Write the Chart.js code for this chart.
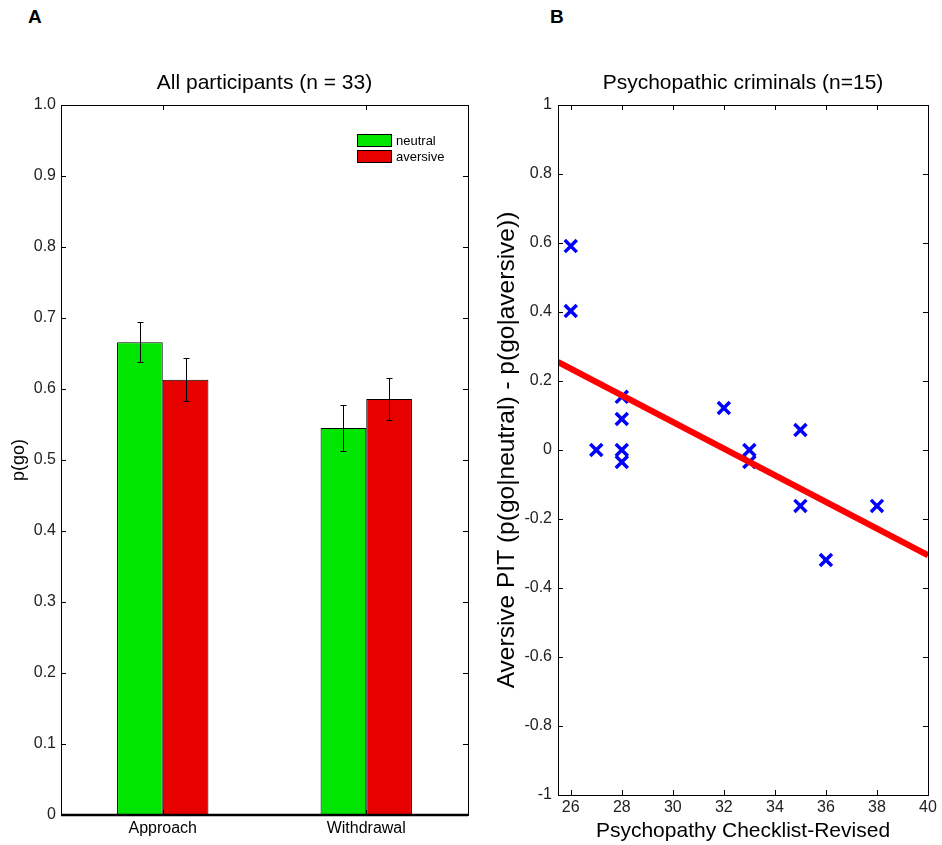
<!DOCTYPE html>
<html>
<head>
<meta charset="utf-8">
<title>p(go) and aversive PIT</title>
<script src="https://cdn.jsdelivr.net/npm/chart.js@4/dist/chart.umd.min.js"></script>
<style>
  html, body { margin:0; padding:0; background:#fff; }
  body { width:942px; height:845px; position:relative; overflow:hidden; font-family:"Liberation Sans", Arial, sans-serif; }
  canvas { position:absolute; top:0; }
  #cA { left:0; }
  #cB { left:480px; }
  .tag { position:absolute; top:6px; font-weight:bold; font-size:19px; color:#000; }
  #legendA { position:absolute; left:357px; top:132px; font-size:13px; color:#000; }
  #legendA .row { display:flex; align-items:center; height:16px; }
  #legendA .sw { width:33px; height:11px; border:1px solid #000; margin-right:4px; }
</style>
</head>
<body>
<div class="tag" style="left:28px">A</div>
<div class="tag" style="left:550px">B</div>
<canvas id="cA" width="480" height="845"></canvas>
<canvas id="cB" width="462" height="845"></canvas>
<div id="legendA"></div>

<script>
/* ---------- panel A: mean p(go) per block, +/- SEM ---------- */
const GROUPS       = ["Approach", "Withdrawal"];
const NEUTRAL      = [0.666, 0.545];
const NEUTRAL_ERR  = [0.028, 0.032];
const AVERSIVE     = [0.613, 0.586];
const AVERSIVE_ERR = [0.030, 0.030];
const SERIES_A     = ["neutral", "aversive"];

/* ---------- panel B: PCL-R score vs aversive PIT ---------- */
const PCLR = [26, 26, 27, 28, 28, 28, 28, 32, 33, 33, 35, 35, 36, 38];
const PIT  = [0.591, 0.403, 0.0, 0.154, 0.090, 0.0, -0.035, 0.122, 0.0, -0.035, 0.058, -0.162, -0.319, -0.162];
const FIT_X = [25.5, 40];
const FIT_Y = [0.255, -0.305];
const X_TICKS_B = [26, 28, 30, 32, 34, 36, 38, 40];

const GREEN = "#00e600", RED = "#e60000", BLUE = "#0000ff";
const FONT = '"Liberation Sans", Arial, sans-serif';

Chart.defaults.font.family = FONT;
Chart.defaults.color = "#222";

// MATLAB-style box: frame round the plot area, ticks pointing inwards on every side
const frameTicks = {
  id: "frameTicks",
  afterDatasetsDraw(chart, args, opts) {
    const { ctx, chartArea: a, scales } = chart;
    const L = opts.len || 5;
    ctx.save();
    ctx.strokeStyle = "#000";
    ctx.lineWidth = 1;
    ctx.strokeRect(Math.round(a.left) + 0.5, Math.round(a.top) + 0.5, Math.round(a.width), Math.round(a.height));
    ctx.beginPath();
    scales.y.ticks.forEach(t => {
      const py = Math.round(scales.y.getPixelForValue(t.value)) + 0.5;
      ctx.moveTo(a.left, py); ctx.lineTo(a.left + L, py);
      ctx.moveTo(a.right, py); ctx.lineTo(a.right - L, py);
    });
    scales.x.ticks.forEach((t, i) => {
      const px = Math.round(scales.x.getPixelForTick(i)) + 0.5;
      ctx.moveTo(px, a.top); ctx.lineTo(px, a.top + L);
      ctx.moveTo(px, a.bottom); ctx.lineTo(px, a.bottom - L);
    });
    ctx.stroke();
    if (opts.bottomWidth) {
      ctx.lineWidth = opts.bottomWidth;
      ctx.beginPath();
      ctx.moveTo(a.left, a.bottom); ctx.lineTo(a.right, a.bottom);
      ctx.stroke();
    }
    ctx.restore();
  }
};

// axes title centred over the plot box rather than the whole canvas
const areaTitle = {
  id: "areaTitle",
  afterDraw(chart, args, opts) {
    const { ctx, chartArea: a } = chart;
    ctx.save();
    ctx.font = `${opts.size}px ${FONT}`;
    ctx.fillStyle = "#000";
    ctx.textAlign = "center";
    ctx.textBaseline = "middle";
    ctx.fillText(opts.text, (a.left + a.right) / 2, a.top - opts.offset);
    ctx.restore();
  }
};

// vertical error bars with short caps, centred on each bar
const ERRORS = [NEUTRAL_ERR, AVERSIVE_ERR];
const errorBars = {
  id: "errorBars",
  afterDatasetsDraw(chart) {
    const { ctx, scales: { y } } = chart;
    ctx.save();
    ctx.strokeStyle = "#000";
    ctx.lineWidth = 1;
    chart.data.datasets.forEach((ds, i) => {
      chart.getDatasetMeta(i).data.forEach((bar, j) => {
        const v = ds.data[j], e = ERRORS[i][j];
        const x = Math.round(bar.x) + 0.5;
        const y1 = Math.round(y.getPixelForValue(v + e)) + 0.5;
        const y2 = Math.round(y.getPixelForValue(v - e)) + 0.5;
        ctx.beginPath();
        ctx.moveTo(x, y1); ctx.lineTo(x, y2);
        ctx.moveTo(x - 3, y1); ctx.lineTo(x + 3, y1);
        ctx.moveTo(x - 3, y2); ctx.lineTo(x + 3, y2);
        ctx.stroke();
      });
    });
    ctx.restore();
  }
};

const tickFont = { size: 16 };
const titleFont = { size: 21, weight: "normal" };

new Chart(document.getElementById("cA"), {
  type: "bar",
  data: {
    labels: GROUPS,
    datasets: [
      { label: SERIES_A[0], data: NEUTRAL,  backgroundColor: GREEN, borderColor: "#000", borderWidth: 1, categoryPercentage: 0.449, barPercentage: 1 },
      { label: SERIES_A[1], data: AVERSIVE, backgroundColor: RED,   borderColor: "#000", borderWidth: 1, categoryPercentage: 0.449, barPercentage: 1 }
    ]
  },
  options: {
    responsive: false, animation: false,
    layout: { padding: { top: 105, right: 12, left: 0, bottom: 0 } },
    plugins: {
      legend: { display: false }, tooltip: { enabled: false },
      areaTitle: { text: "All participants (n = 33)", size: 21, offset: 22 },
      frameTicks: { len: 5, bottomWidth: 2.5 }
    },
    scales: {
      x: {
        grid: { display: false, drawTicks: false }, border: { display: false },
        ticks: { color: "#000", font: { size: 16 }, padding: 4 },
        afterFit: s => { s.height = 30; }
      },
      y: {
        min: 0, max: 1,
        grid: { display: false, drawTicks: false }, border: { display: false },
        ticks: { stepSize: 0.1, font: tickFont, padding: 5, callback: v => v === 0 ? "0" : v.toFixed(1) },
        title: { display: true, text: "p(go)", color: "#000", font: { size: 18, weight: "normal" }, padding: { top: 8, bottom: 0 } },
        afterFit: s => { s.width = 61; }
      }
    }
  },
  plugins: [frameTicks, errorBars, areaTitle]
});

// legend for panel A, built from the same series names and colours
document.getElementById("legendA").innerHTML = SERIES_A.map((name, i) =>
  `<div class="row"><div class="sw" style="background:${[GREEN, RED][i]}"></div>${name}</div>`).join("");

new Chart(document.getElementById("cB"), {
  type: "scatter",
  data: {
    datasets: [
      { type: "line", data: FIT_X.map((x, i) => ({ x, y: FIT_Y[i] })), borderColor: "#ff0000", borderWidth: 6, pointRadius: 0, order: 1 },
      { data: PCLR.map((x, i) => ({ x, y: PIT[i] })), pointStyle: "crossRot", radius: 8.5, borderWidth: 3.5, borderColor: BLUE, backgroundColor: BLUE, order: 2 }
    ]
  },
  options: {
    responsive: false, animation: false,
    layout: { padding: { top: 105, right: 14, left: 0, bottom: 0 } },
    plugins: {
      legend: { display: false }, tooltip: { enabled: false },
      areaTitle: { text: "Psychopathic criminals (n=15)", size: 21, offset: 22 },
      frameTicks: { len: 5 }
    },
    scales: {
      x: {
        type: "linear", min: 25.5, max: 40,
        afterBuildTicks: s => { s.ticks = X_TICKS_B.map(v => ({ value: v })); },
        grid: { display: false, drawTicks: false }, border: { display: false },
        ticks: { font: tickFont, padding: 3 },
        title: { display: true, text: "Psychopathy Checklist-Revised", color: "#000", font: titleFont, padding: { top: 0, bottom: 1 } },
        afterFit: s => { s.height = 50; }
      },
      y: {
        min: -1, max: 1,
        grid: { display: false, drawTicks: false }, border: { display: false },
        ticks: { stepSize: 0.2, font: tickFont, padding: 6, callback: v => String(Number(v.toFixed(1))) },
        title: { display: true, text: "Aversive PIT (p(go|neutral) - p(go|aversive))", color: "#000", font: { size: 24.5, weight: "normal" }, padding: { top: 13, bottom: 0 } },
        afterFit: s => { s.width = 78; }
      }
    }
  },
  plugins: [frameTicks, areaTitle]
});
</script>
</body>
</html>
